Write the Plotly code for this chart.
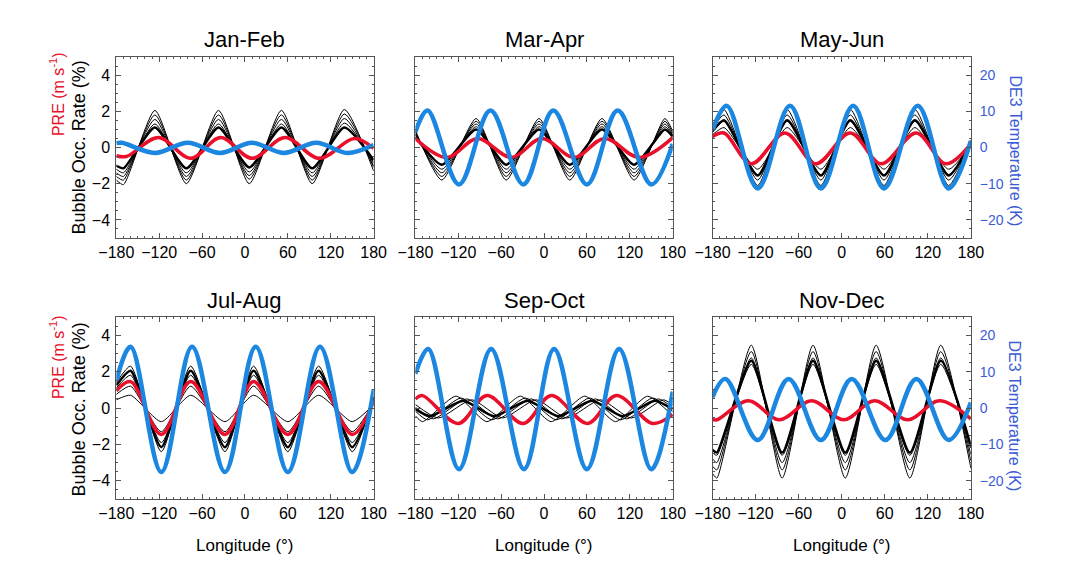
import plotly.graph_objects as go
from plotly.subplots import make_subplots

W, H = 1071, 564

months = ["Jan-Feb", "Mar-Apr", "May-Jun", "Jul-Aug", "Sep-Oct", "Nov-Dec"]
lon_ticks = [-180, -120, -60, 0, 60, 120, 180]
left_ticks = [-4, -2, 0, 2, 4]
right_ticks = [-20, -10, 0, 10, 20]

# ---------------- Jan-Feb ----------------
jf_black_lon = [-180, -170, -126, -82, -37, 6, 51, 94, 139, 180]
jf_black = [
    [-1.8, -2.05, 2.05, -2.0, 2.05, -2.0, 2.05, -2.0, 2.1, -1.3],
    [-1.6, -1.8, 1.8, -1.8, 1.8, -1.75, 1.8, -1.8, 1.85, -1.1],
    [-1.4, -1.6, 1.55, -1.6, 1.55, -1.55, 1.55, -1.6, 1.6, -1.0],
    [-1.2, -1.4, 1.3, -1.4, 1.3, -1.35, 1.3, -1.4, 1.35, -0.85],
]
jf_black_thick = [-1.0, -1.15, 1.1, -1.15, 1.1, -1.1, 1.1, -1.15, 1.1, -0.7]
jf_red_lon = [-180, -166, -121, -76, -34, 10, 56, 104, 153, 180]
jf_red = [-0.45, -0.5, 0.55, -0.6, 0.55, -0.6, 0.55, -0.6, 0.5, -0.05]
jf_blue_lon = [-180, -172, -126, -80, -35, 10, 54, 100, 143, 180]
jf_blue = [1.2, 1.3, -1.5, 1.3, -1.5, 1.3, -1.5, 1.3, -1.5, 0.7]

# ---------------- Mar-Apr ----------------
ma_black_lon = [-180, -143, -95, -53, -7, 36, 81, 126, 169, 180]
ma_black = [
    [0.95, -1.8, 1.6, -1.8, 1.6, -1.8, 1.6, -1.8, 1.6, 0.9],
    [0.85, -1.6, 1.45, -1.6, 1.45, -1.6, 1.45, -1.6, 1.45, 0.8],
    [0.75, -1.4, 1.3, -1.4, 1.3, -1.4, 1.3, -1.4, 1.3, 0.7],
    [0.7, -1.2, 1.15, -1.2, 1.15, -1.2, 1.15, -1.2, 1.15, 0.65],
]
ma_black_thick = [0.6, -0.95, 1.0, -0.95, 1.0, -0.95, 1.0, -0.95, 1.0, 0.6]
ma_red_lon = [-180, -136, -93, -46, -3, 42, 85, 133, 180]
ma_red = [0.5, -0.55, 0.5, -0.55, 0.5, -0.55, 0.5, -0.55, 0.55]
ma_blue_lon = [-180, -163, -119, -75, -29, 13, 60, 103, 150, 180]
ma_blue = [4.3, 10.2, -10.2, 10.2, -10.2, 10.2, -10.2, 10.2, -10.2, 1.0]

# ---------------- May-Jun ----------------
mj_black_lon = [-180, -164, -117, -76, -29, 12, 59, 102, 149, 180]
mj_black = [
    [1.2, 2.1, -2.1, 2.1, -2.1, 2.1, -2.1, 2.1, -2.1, 0.4],
    [1.0, 1.8, -1.8, 1.8, -1.8, 1.8, -1.8, 1.8, -1.8, 0.3],
    [0.85, 1.45, -1.5, 1.45, -1.5, 1.45, -1.5, 1.45, -1.5, 0.25],
    [0.7, 1.1, -1.2, 1.1, -1.2, 1.1, -1.2, 1.1, -1.2, 0.15],
]
mj_black_thick = [0.9, 1.5, -1.55, 1.5, -1.55, 1.5, -1.55, 1.5, -1.55, 0.3]
mj_red_lon = [-180, -164, -126, -79, -36, 12, 55, 104, 145, 180]
mj_red = [0.6, 0.8, -0.9, 0.8, -0.9, 0.8, -0.9, 0.8, -0.9, 0.2]
mj_blue_lon = [-180, -160, -117, -72, -29, 16, 59, 106, 149, 180]
mj_blue = [4.8, 11.5, -11.3, 11.5, -11.3, 11.5, -11.3, 11.5, -11.3, 1.8]

# ---------------- Jul-Aug ----------------
ja_black_lon = [-180, -160, -117, -76, -28, 12, 60, 103, 150, 180]
ja_black = [
    [1.4, 2.3, -2.4, 2.3, -2.4, 2.3, -2.4, 2.3, -2.4, 0.6],
    [1.1, 1.8, -1.9, 1.8, -1.9, 1.8, -1.9, 1.8, -1.9, 0.5],
    [0.75, 1.2, -1.3, 1.2, -1.3, 1.2, -1.3, 1.2, -1.3, 0.3],
    [0.45, 0.7, -0.75, 0.7, -0.75, 0.7, -0.75, 0.7, -0.75, 0.2],
]
ja_black_thick = [1.25, 2.05, -2.15, 2.05, -2.15, 2.05, -2.15, 2.05, -2.15, 0.55]
ja_red_lon = [-180, -160, -117, -76, -28, 12, 60, 103, 150, 180]
ja_red = [0.95, 1.45, -1.45, 1.45, -1.45, 1.45, -1.45, 1.45, -1.45, 0.35]
ja_blue_lon = [-180, -160, -117, -74, -28, 15, 60, 105, 150, 180]
ja_blue = [7.5, 16.8, -17.6, 16.8, -17.6, 16.8, -17.6, 16.8, -17.6, 5.0]

# ---------------- Sep-Oct ----------------
so_black_lon = [
    [-180, -170, -123, -80, -33, 10, 57, 100, 145, 180],
    [-180, -163, -116, -73, -26, 17, 64, 107, 152, 180],
    [-180, -155, -108, -65, -18, 25, 72, 115, 160, 180],
    [-180, -148, -101, -58, -11, 32, 79, 122, 167, 180],
]
so_black = [
    [-0.43, -0.75, 0.65, -0.75, 0.65, -0.75, 0.65, -0.75, 0.65, -0.44],
    [-0.17, -0.65, 0.55, -0.65, 0.55, -0.65, 0.55, -0.65, 0.55, -0.2],
    [0.04, -0.6, 0.5, -0.6, 0.5, -0.6, 0.5, -0.6, 0.5, 0.01],
    [0.19, -0.55, 0.45, -0.55, 0.45, -0.55, 0.45, -0.55, 0.45, 0.16],
]
so_black_thick_lon = [-180, -160, -113, -70, -23, 20, 67, 110, 155, 180]
so_black_thick = [-0.05, -0.45, 0.4, -0.45, 0.4, -0.45, 0.4, -0.45, 0.4, -0.07]
so_red_lon = [-180, -170, -120, -80, -29, 10, 61, 101, 152, 180]
so_red = [0.5, 0.68, -0.85, 0.68, -0.85, 0.68, -0.85, 0.68, -0.85, -0.35]
so_blue_lon = [-180, -162, -119, -74, -28, 14, 60, 105, 150, 180]
so_blue = [9.4, 16.2, -16.8, 16.2, -16.8, 16.2, -16.8, 16.2, -16.8, 4.5]

# ---------------- Nov-Dec ----------------
nd_black_lon = [-180, -174, -126, -83, -40, 5, 48, 95, 138, 180]
nd_black = [
    [-3.6, -3.85, 3.45, -3.85, 3.45, -3.85, 3.45, -3.85, 3.45, -3.3],
    [-3.2, -3.4, 3.1, -3.4, 3.1, -3.4, 3.1, -3.4, 3.1, -2.9],
    [-2.8, -3.0, 2.75, -3.0, 2.75, -3.0, 2.75, -3.0, 2.75, -2.55],
    [-2.45, -2.6, 2.4, -2.6, 2.4, -2.6, 2.4, -2.6, 2.4, -2.2],
]
nd_black_thick = [-2.3, -2.45, 2.6, -2.45, 2.6, -2.45, 2.6, -2.45, 2.6, -2.1]
nd_red_lon = [-180, -174, -130, -87, -42, 3, 46, 92, 136, 180]
nd_red = [-0.62, -0.65, 0.4, -0.65, 0.4, -0.65, 0.4, -0.65, 0.4, -0.6]
nd_blue_lon = [-180, -162, -117, -74, -29, 14, 61, 104, 149, 180]
nd_blue = [3.0, 8.0, -8.8, 8.0, -8.8, 8.0, -8.8, 8.0, -8.8, 1.5]

panels = [
    (jf_black_lon, jf_black, jf_black_lon, jf_black_thick, jf_red_lon, jf_red, jf_blue_lon, jf_blue),
    (ma_black_lon, ma_black, ma_black_lon, ma_black_thick, ma_red_lon, ma_red, ma_blue_lon, ma_blue),
    (mj_black_lon, mj_black, mj_black_lon, mj_black_thick, mj_red_lon, mj_red, mj_blue_lon, mj_blue),
    (ja_black_lon, ja_black, ja_black_lon, ja_black_thick, ja_red_lon, ja_red, ja_blue_lon, ja_blue),
    (so_black_lon, so_black, so_black_thick_lon, so_black_thick, so_red_lon, so_red, so_blue_lon, so_blue),
    (nd_black_lon, nd_black, nd_black_lon, nd_black_thick, nd_red_lon, nd_red, nd_blue_lon, nd_blue),
]

BLUE = "#1b87e0"
RED = "#e8102a"
LBLUE = "#3b5bd5"
FRAME = "#555555"
FONT = "Liberation Sans, Arial, sans-serif"

fig = make_subplots(rows=2, cols=3, specs=[[{"secondary_y": True}] * 3] * 2)

for i, (blon, blines, tlon, thick, rlon, red, ulon, blue) in enumerate(panels):
    r, c = i // 3 + 1, i % 3 + 1
    for k, line in enumerate(blines):
        xs = blon[k] if isinstance(blon[0], list) else blon
        fig.add_trace(go.Scatter(x=xs, y=line, mode="lines",
                                 line=dict(color="black", width=1, shape="spline", smoothing=0.6),
                                 hoverinfo="skip"), row=r, col=c, secondary_y=False)
    fig.add_trace(go.Scatter(x=tlon, y=thick, mode="lines",
                             line=dict(color="black", width=2.5, shape="spline", smoothing=0.6),
                             hoverinfo="skip"), row=r, col=c, secondary_y=False)
    fig.add_trace(go.Scatter(x=rlon, y=red, mode="lines",
                             line=dict(color=RED, width=3.5, shape="spline", smoothing=1.0),
                             hoverinfo="skip"), row=r, col=c, secondary_y=False)
    fig.add_trace(go.Scatter(x=ulon, y=blue, mode="lines",
                             line=dict(color=BLUE, width=4.5, shape="spline", smoothing=1.0),
                             hoverinfo="skip"), row=r, col=c, secondary_y=True)

x_px = [(93, 358), (401, 666), (707, 973)]
y_px = [(49, 230), (309, 491)]

for i in range(6):
    r, c = i // 3 + 1, i % 3 + 1
    x0, x1 = x_px[c - 1]
    y0, y1 = y_px[r - 1]
    fig.update_xaxes(domain=[x0 / W, x1 / W], range=[-180, 180], tickvals=lon_ticks,
                     ticks="inside", ticklen=5, tickcolor=FRAME, showline=True, linecolor=FRAME,
                     linewidth=1, mirror="ticks", showgrid=False, zeroline=False,
                     minor=dict(dtick=10, ticks="inside", ticklen=2, tickcolor=FRAME),
                     tickfont=dict(size=16, color="black", family=FONT), row=r, col=c)
    fig.update_yaxes(domain=[1 - y1 / H, 1 - y0 / H], range=[-5, 5], tickvals=left_ticks,
                     ticks="inside", ticklen=5, tickcolor=FRAME, showline=True, linecolor=FRAME,
                     linewidth=1, mirror="ticks", showgrid=False, zeroline=False,
                     minor=dict(dtick=0.5, ticks="inside", ticklen=2, tickcolor=FRAME),
                     showticklabels=(c == 1), ticklabelstandoff=2,
                     tickfont=dict(size=16, color="black", family=FONT),
                     row=r, col=c, secondary_y=False)
    fig.update_yaxes(range=[-25, 25], tickvals=right_ticks, showgrid=False, zeroline=False,
                     showline=False, ticks="", showticklabels=(c == 3), ticklabelstandoff=8,
                     tickfont=dict(size=14, color=LBLUE, family=FONT),
                     row=r, col=c, secondary_y=True)

ann = []
for i, m in enumerate(months):
    r, c = i // 3, i % 3
    x0, x1 = x_px[c]
    ty = 32 if r == 0 else 293
    ann.append(dict(text=m, x=(x0 + x1) / 2 / W, y=1 - ty / H, xref="paper", yref="paper",
                    showarrow=False, font=dict(size=22, color="black", family=FONT),
                    xanchor="center", yanchor="middle"))
for r in range(2):
    yc_b = 139 if r == 0 else 401
    yc_r = 86 if r == 0 else 349
    yc_t = 143 if r == 0 else 408
    ann.append(dict(text="Bubble Occ. Rate (%)", x=55 / W, y=1 - yc_b / H, xref="paper",
                    yref="paper", showarrow=False, textangle=-90,
                    font=dict(size=18, color="black", family=FONT),
                    xanchor="center", yanchor="middle"))
    ann.append(dict(text="PRE (m s<sup>-1</sup>)", x=32 / W, y=1 - yc_r / H, xref="paper",
                    yref="paper", showarrow=False, textangle=-90,
                    font=dict(size=16, color=RED, family=FONT),
                    xanchor="center", yanchor="middle"))
    ann.append(dict(text="DE3 Temperature (K)", x=1018 / W, y=1 - yc_t / H, xref="paper",
                    yref="paper", showarrow=False, textangle=90,
                    font=dict(size=16, color=LBLUE, family=FONT),
                    xanchor="center", yanchor="middle"))
for c in range(3):
    x0, x1 = x_px[c]
    ann.append(dict(text="Longitude (°)", x=(x0 + x1) / 2 / W, y=1 - 537 / H, xref="paper",
                    yref="paper", showarrow=False,
                    font=dict(size=17, color="black", family=FONT),
                    xanchor="center", yanchor="middle"))

fig.update_layout(width=W, height=H, margin=dict(l=0, r=0, t=0, b=0),
                  plot_bgcolor="white", paper_bgcolor="white", showlegend=False,
                  annotations=ann, font=dict(family=FONT))

fig.write_html("out.html")
